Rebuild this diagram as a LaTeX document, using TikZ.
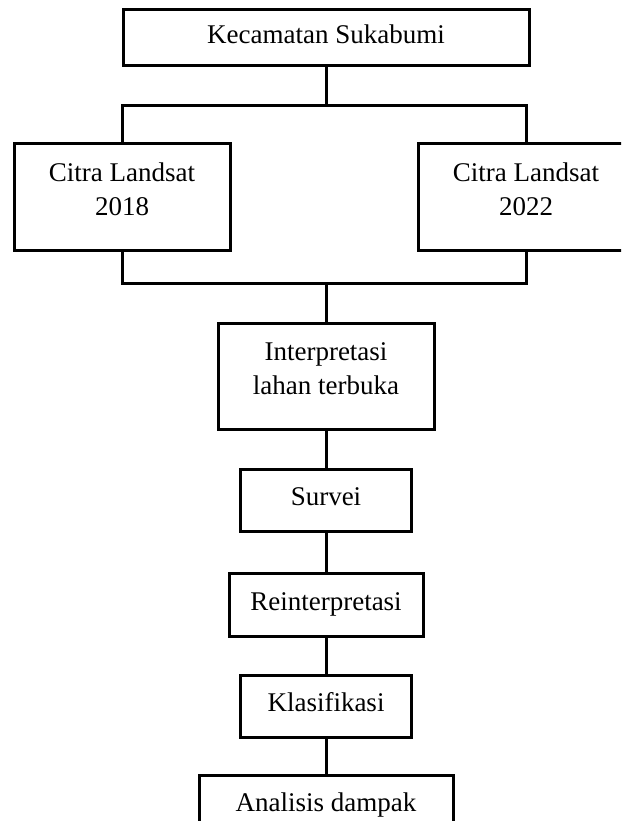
\documentclass[tikz,border=0pt]{standalone}
\usepackage{fontspec}
\setmainfont{Liberation Serif}
\usepackage{tikz}
\usetikzlibrary{calc, positioning}
\tikzstyle{box}=[rectangle, draw, inner sep=0pt, align=center, text height=20pt, text depth=9pt]
\tikzstyle{wide}=[box, minimum width=216pt, minimum height=106pt, text height=54pt, text depth=18pt]

\begin{document}
\begin{tikzpicture}[x=1pt, y=-1pt]

\tikzset{every node/.style={font=\fontsize{27pt}{34pt}\selectfont}}

% page
\useasboundingbox (0,0) rectangle (621,821);
\clip (0,0) rectangle (621,821);

%  all lines
\tikzset{every path/.style={line width=3pt}}

% top
\node[box, minimum width=406pt, minimum height=56pt] (kec) at (326,38) {Kecamatan Sukabumi};

% images
\node[wide] (c18) at (122,197) {Citra Landsat\\2018};
\node[wide] (c22) at (526,197) {Citra Landsat\\2022};

% chain
\node[wide] (interp) at (326,376) {Interpretasi\\lahan terbuka};
\node[box, minimum width=171pt, minimum height=62pt, below=37pt of interp] (survei) {Survei};
\node[box, minimum width=194pt, minimum height=63pt, below=39pt of survei] (reint) {Reinterpretasi};
\node[box, minimum width=171pt, minimum height=62pt, below=36pt of reint] (klas) {Klasifikasi};
\node[box, minimum width=254pt, minimum height=62pt, below=35pt of klas] (anal) {Analisis dampak};

% splits
\coordinate (splitT) at ($(kec.south)+(0,38)$);
\coordinate (splitB) at ($(interp.north)+(0,-38)$);

\draw (kec.south) -- (splitT);
\draw (c18.north) |- (splitT) -| (c22.north);
\draw (c18.south) |- (splitB) -| (c22.south);
\draw (splitB) -- (interp.north);

\draw (interp) -- (survei);
\draw (survei) -- (reint);
\draw (reint) -- (klas);
\draw (klas) -- (anal);

\end{tikzpicture}
\end{document}
